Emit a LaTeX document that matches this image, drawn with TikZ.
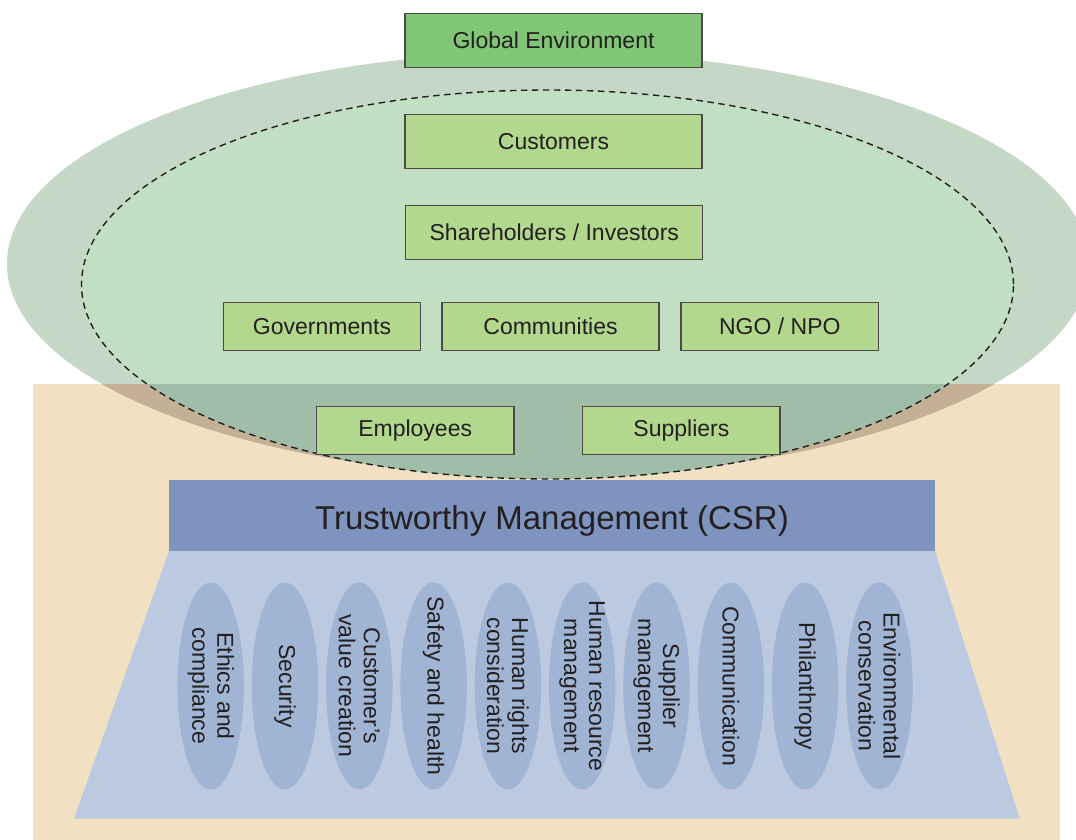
\documentclass[tikz,border=0pt]{standalone}
\usepackage{fontspec}
\setmainfont{Liberation Sans}
\usetikzlibrary{shapes.geometric}
\definecolor{cTan}{HTML}{F1E1C2}
\definecolor{cRing}{HTML}{C5D8C5}
\definecolor{cInner}{HTML}{C1E0C3}
\definecolor{cRingTan}{HTML}{C4B094}
\definecolor{cInnerTan}{HTML}{A0BDA8}
\definecolor{cHead}{HTML}{7F93BF}
\definecolor{cTrap}{HTML}{BCCAE1}
\definecolor{cPill}{HTML}{A0B4D4}
\definecolor{cGlobal}{HTML}{80C676}
\definecolor{cBox}{HTML}{B1D88D}
\definecolor{cBorder}{HTML}{4A4A48}
\definecolor{cText}{HTML}{231F20}
\begin{document}
\begin{tikzpicture}[x=1pt,y=-1pt,
  sbox/.style={rectangle, draw=cBorder, line width=1.3pt, fill=cBox, inner sep=0pt,
    text=cText, font=\fontsize{23}{27}\selectfont},
  pillshape/.style={ellipse, fill=cPill, inner sep=0pt, minimum width=66.5pt, minimum height=207pt},
  pilltext/.style={rotate=-90, align=center, text=cText, inner sep=0pt,
    font=\fontsize{23}{25}\selectfont}]
\useasboundingbox[fill=white] (0,0) rectangle (1076,840);
% tan background
\fill[cTan] (33,384) rectangle (1060,840);
% stakeholder ellipses
\fill[cRing] (548,264) ellipse [x radius=541pt, y radius=212pt];
\fill[cInner] (547.5,284.5) ellipse [x radius=466pt, y radius=194.5pt];
\begin{scope}
  \clip (33,384) rectangle (1060,840);
  \fill[cRingTan] (548,264) ellipse [x radius=541pt, y radius=212pt];
  \fill[cInnerTan] (547.5,284.5) ellipse [x radius=466pt, y radius=194.5pt];
\end{scope}
\draw[cText, line width=1.4pt, dash pattern=on 6.5pt off 4.5pt] (547.5,284.5) ellipse [x radius=466pt, y radius=194.5pt];
% stakeholder boxes
\node[sbox, fill=cGlobal, minimum width=297pt, minimum height=54pt] (global) at (553.5,40.3) {Global Environment};
\node[sbox, minimum width=297pt, minimum height=54pt] (cust) at (553.5,141.3) {Customers};
\node[sbox, minimum width=297pt, minimum height=54pt] (share) at (554.3,232.5) {Shareholders / Investors};
\node[sbox, minimum width=197pt, minimum height=48pt] (gov) at (322,326.2) {Governments};
\node[sbox, minimum width=217pt, minimum height=48pt] (comm) at (550.5,326.2) {Communities};
\node[sbox, minimum width=197.6pt, minimum height=48pt] (ngo) at (779.8,326.2) {NGO / NPO};
\node[sbox, minimum width=197.3pt, minimum height=48pt] (emp) at (415.2,430.7) {Employees};
\node[sbox, minimum width=197.2pt, minimum height=48pt] (sup) at (681.4,430.7) {Suppliers};
% CSR base
\fill[cTrap] (169,551) -- (935,551) -- (1019.8,818.7) -- (74,818.7) -- cycle;
\node[rectangle, fill=cHead, inner sep=0pt, minimum width=766pt, minimum height=71pt] (csr) at (552,515.5) {};
\node[text=cText, inner sep=0pt, font=\fontsize{33}{38}\selectfont] (csrtext) at ([yshift=-5pt]csr.center) {Trustworthy Management (CSR)};
% pillars
\node[pillshape] (p1) at (210.7,686) {};
\node[pillshape] (p2) at (285.0,686) {};
\node[pillshape] (p3) at (359.3,686) {};
\node[pillshape] (p4) at (433.6,686) {};
\node[pillshape] (p5) at (507.9,686) {};
\node[pillshape] (p6) at (582.2,686) {};
\node[pillshape] (p7) at (656.5,686) {};
\node[pillshape] (p8) at (730.8,686) {};
\node[pillshape] (p9) at (805.1,686) {};
\node[pillshape] (p10) at (879.4,686) {};
\node[pilltext] (t1) at (p1) {Ethics and\\compliance};
\node[pilltext] (t2) at (p2) {Security};
\node[pilltext] (t3) at (p3) {Customer’s\\value creation};
\node[pilltext] (t4) at (p4) {Safety and health};
\node[pilltext] (t5) at (p5) {Human rights\\consideration};
\node[pilltext] (t6) at (p6) {Human resource\\management};
\node[pilltext] (t7) at (p7) {Supplier\\management};
\node[pilltext] (t8) at (p8) {Communication};
\node[pilltext] (t9) at (p9) {Philanthropy};
\node[pilltext] (t10) at (p10) {Environmental\\conservation};
\end{tikzpicture}
\end{document}
